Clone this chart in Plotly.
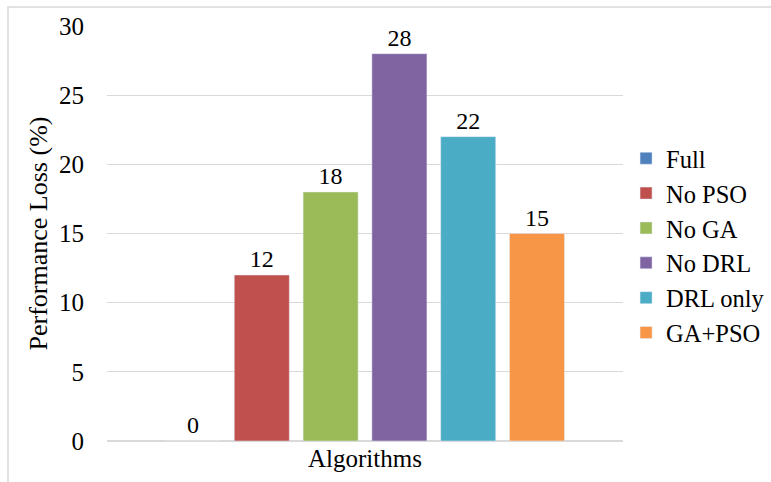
import plotly.graph_objects as go

categories = ["Full", "No PSO", "No GA", "No DRL", "DRL only", "GA+PSO"]
values = [0, 12, 18, 28, 22, 15]
colors = ["#4F81BD", "#C0504D", "#9BBB59", "#8064A2", "#4BACC6", "#F79646"]
x_label = "Algorithms"

serif = "Liberation Serif"

fig = go.Figure()
for name, v, c in zip(categories, values, colors):
    fig.add_trace(go.Bar(
        x=[x_label], y=[v], name=name, marker_color=c,
        text=[str(v)], textposition="outside", cliponaxis=False,
        textfont=dict(family=serif, size=24, color="#000"),
    ))

fig.update_layout(
    width=771, height=482,
    margin=dict(l=107, r=148, t=26, b=41, autoexpand=False),
    paper_bgcolor="white", plot_bgcolor="white",
    barmode="group", bargap=0.2, bargroupgap=0.2,
    font=dict(family=serif, size=24, color="#000"),
    showlegend=True,
    legend=dict(xref="container", yref="container", x=0.812, y=0.49,
                xanchor="left", yanchor="middle",
                font=dict(family=serif, size=24.5, color="#000"),
                itemwidth=30),
    xaxis=dict(showgrid=False, showline=False, ticks="",
               tickfont=dict(family=serif, size=25, color="#000")),
    yaxis=dict(range=[0, 30], dtick=5, showgrid=True, gridcolor="#D9D9D9",
               gridwidth=1, zeroline=True, zerolinecolor="#D9D9D9",
               showline=False, ticks="", ticklabelstandoff=22,
               tickfont=dict(family=serif, size=25, color="#000"),
               title=dict(text="Performance Loss (%)",
                          font=dict(family=serif, size=26, color="#000"),
                          standoff=3)),
    shapes=[dict(type="rect", xref="paper", yref="paper",
                 x0=(8 - 107) / 516, x1=1.4, y0=-0.3, y1=(441 - 7) / 415,
                 line=dict(color="#D9D9D9", width=1.5), fillcolor="rgba(0,0,0,0)",
                 layer="below")],
)

fig.write_html("out.html")
